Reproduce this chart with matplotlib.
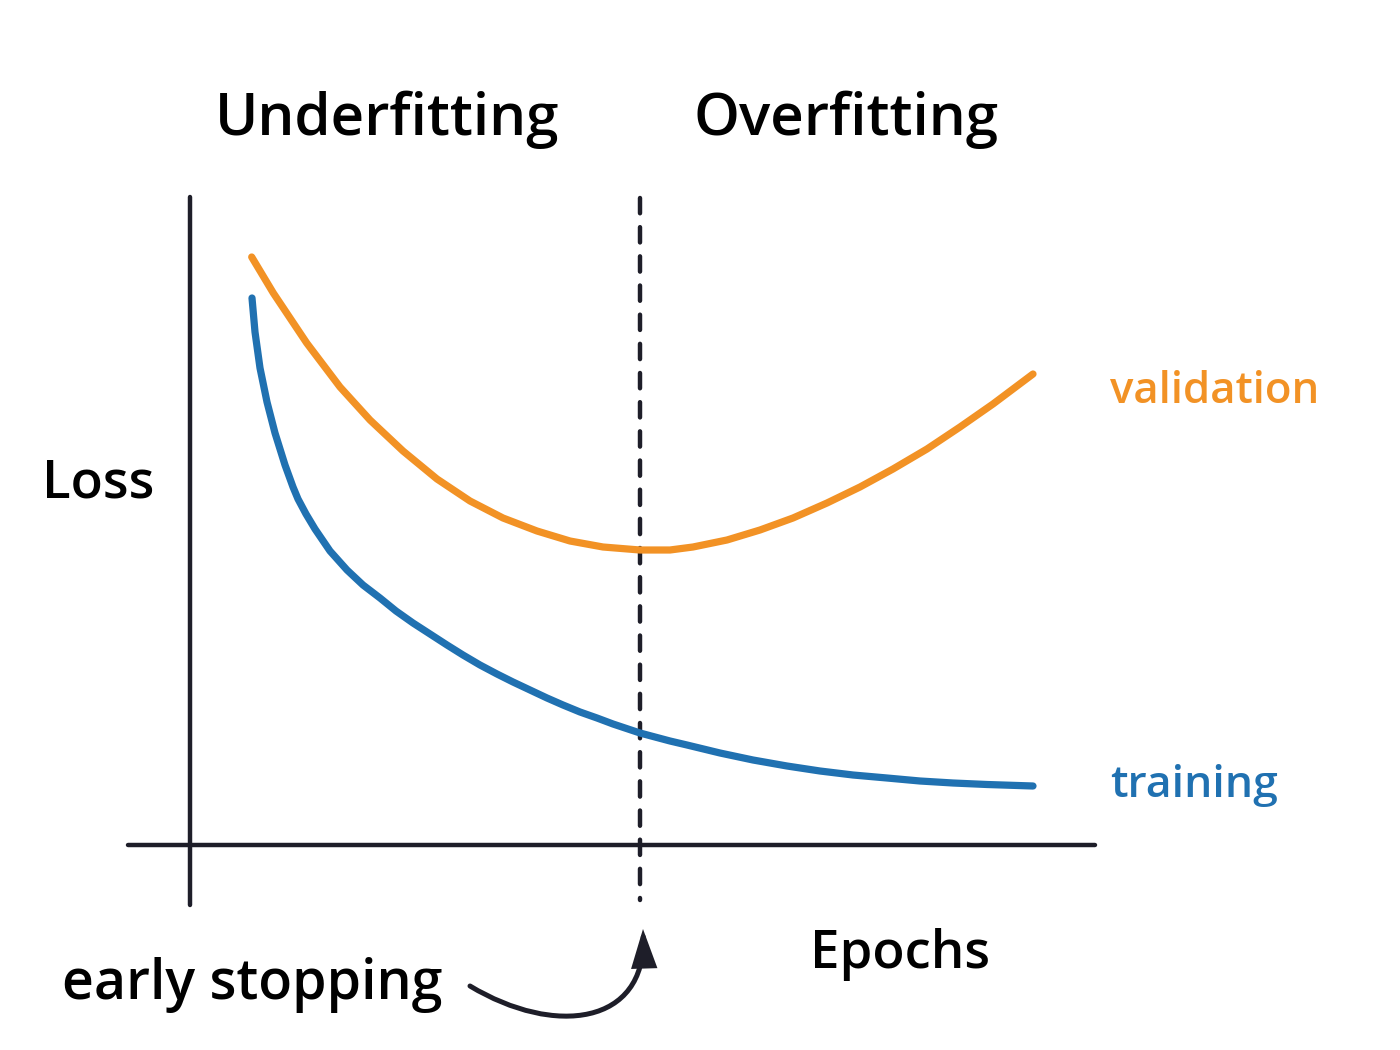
import matplotlib
matplotlib.use("Agg")
import matplotlib.pyplot as plt
from matplotlib.path import Path
from matplotlib.patches import FancyArrowPatch

# ---- data (arbitrary units, no ticks shown) ----
val_epochs = [6.17, 8.33, 11.67, 15.0, 18.0, 21.3, 24.7, 28.0, 31.3, 34.7, 38.0, 41.3, 45.0,
              48.0, 50.3, 53.7, 57.0, 60.3, 63.7, 67.0, 70.3, 73.7, 77.0, 80.3, 84.3]
val_loss = [5.88, 5.52, 5.02, 4.58, 4.25, 3.94, 3.66, 3.44, 3.27, 3.14, 3.04, 2.98, 2.95,
            2.95, 2.98, 3.05, 3.15, 3.27, 3.42, 3.58, 3.76, 3.96, 4.18, 4.41, 4.71]

train_epochs = [6.2, 6.5, 7.0, 7.7, 8.5, 9.5, 10.3, 10.8, 11.6, 12.5, 14.0, 15.7, 17.3, 19.0,
                20.6, 22.3, 24.0, 25.7, 27.3, 29.0, 30.7, 32.3, 34.0, 35.7, 37.3, 39.0, 40.7,
                42.3, 45.0, 48.0, 49.7, 53.0, 56.3, 59.7, 63.0, 66.3, 69.7, 73.0, 76.3, 79.7,
                84.3]
train_loss = [5.47, 5.13, 4.77, 4.43, 4.12, 3.80, 3.58, 3.46, 3.31, 3.16, 2.94, 2.75, 2.60, 2.47,
              2.34, 2.22, 2.11, 2.00, 1.90, 1.80, 1.71, 1.63, 1.55, 1.47, 1.40, 1.33, 1.27,
              1.21, 1.12, 1.04, 1.00, 0.92, 0.85, 0.79, 0.74, 0.70, 0.67, 0.64, 0.62, 0.605,
              0.59]

early_stop_epoch = 45.0

region_labels = ["Underfitting", "Overfitting"]
series_labels = ["validation", "training"]
x_label = "Epochs"
y_label = "Loss"
note_label = "early stopping"

# ---- style ----
ORANGE = "#f29225"
BLUE = "#2071b1"
DARK = "#1e1e29"
FONT = ["Open Sans", "DejaVu Sans"]
plt.rcParams["lines.scale_dashes"] = False

W, H = 1400, 1050
fig = plt.figure(figsize=(14, 10.5), dpi=100)
ax = fig.add_axes([0, 0, 1, 1])
ax.set_xlim(-19, 121)
ax.set_ylim(-2.05, 8.45)
ax.axis("off")

# axes lines
ax.plot([0, 0], [6.48, -0.60], color=DARK, lw=3.2, solid_capstyle="round")
ax.plot([-6.2, 90.5], [0, 0], color=DARK, lw=3.2, solid_capstyle="round")
# early stopping dashed line
ax.plot([early_stop_epoch, early_stop_epoch], [6.47, -0.55], color=DARK, lw=3.2,
        dashes=(11.0, 10.0), dash_capstyle="round")

# curves
ax.plot(val_epochs, val_loss, color=ORANGE, lw=5.2, solid_capstyle="round",
        solid_joinstyle="round")
ax.plot(train_epochs, train_loss, color=BLUE, lw=5.2, solid_capstyle="round",
        solid_joinstyle="round")

# curved arrow
verts = [(28.0, -1.41), (36.5, -1.92), (45.6, -1.80), (45.3, -0.84)]
codes = [Path.MOVETO, Path.CURVE4, Path.CURVE4, Path.CURVE4]
arrow = FancyArrowPatch(path=Path(verts, codes), arrowstyle="-|>,head_length=21,head_width=7",
                        color=DARK, lw=3.6, capstyle="round", joinstyle="miter",
                        mutation_scale=1, shrinkA=0, shrinkB=0)
ax.add_patch(arrow)


def ftext(x, y, s, **kw):
    fig.text(x / W, 1 - y / H, s, family=FONT, va="baseline", fontweight="semibold", **kw)


ftext(387, 135, region_labels[0], ha="center", fontsize=42, color="black")
ftext(846, 135, region_labels[1], ha="center", fontsize=42, color="black")
ftext(98, 498, y_label, ha="center", fontsize=38, color="black")
ftext(900, 968, x_label, ha="center", fontsize=38, color="black")
ftext(252, 999, note_label, ha="center", fontsize=40, color="black")
ftext(1110, 403, series_labels[0], ha="left", fontsize=31.5, color=ORANGE)
ftext(1110, 797, series_labels[1], ha="left", fontsize=32, color=BLUE)

fig.savefig("out.png", dpi=100, facecolor="white")
